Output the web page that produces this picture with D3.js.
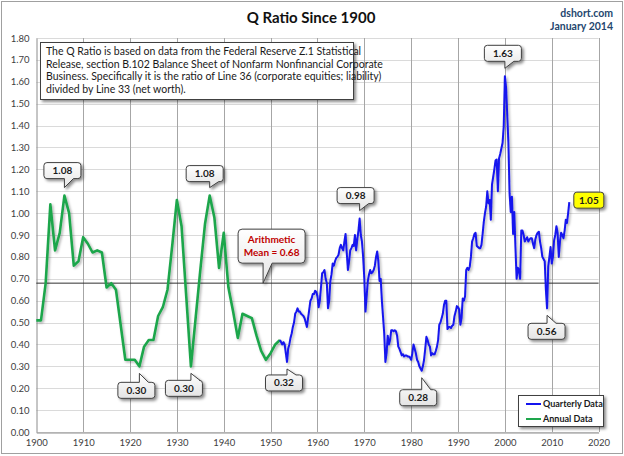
<!DOCTYPE html>
<html>
<head>
<meta charset="utf-8">
<script src="https://cdn.jsdelivr.net/npm/d3@7"></script>
<style>
  html, body { margin: 0; padding: 0; background: #fff; }
  svg { display: block; font-family: Lato, "Open Sans", sans-serif; }
</style>
</head>
<body>
<div id="chart"></div>
<script>
// annual Q ratio, 1900..1952 (one value per year)
const annualStart = 1900;
const annualValues = [
  0.51, 0.51, 0.68, 1.04, 0.83, 0.91, 1.08, 1.00, 0.76, 0.78,
  0.89, 0.86, 0.82, 0.83, 0.82, 0.66, 0.68, 0.65, 0.49, 0.33,
  0.33, 0.33, 0.30, 0.39, 0.42, 0.42, 0.53, 0.57, 0.65, 0.85,
  1.06, 0.94, 0.62, 0.30, 0.52, 0.74, 0.95, 1.08, 0.98, 0.75,
  0.91, 0.66, 0.55, 0.43, 0.54, 0.53, 0.52, 0.44, 0.37, 0.33,
  0.36, 0.40, 0.42
];

// quarterly Q ratio, 1952 Q1 .. 2013 Q4 (one row per year)
const quarterlyStart = 1952;
const quarterlyValues = [
  0.42, 0.41, 0.40, 0.41,   // 1952
  0.40, 0.36, 0.32, 0.38,
  0.40, 0.43, 0.45, 0.48,
  0.50, 0.54, 0.55, 0.565,
  0.55, 0.55, 0.54, 0.535,
  0.53, 0.52, 0.50, 0.48,
  0.52, 0.56, 0.60, 0.61,
  0.63, 0.63, 0.645, 0.64,
  0.62, 0.57, 0.60, 0.66,   // 1960
  0.725, 0.73, 0.74, 0.70,
  0.68, 0.565, 0.60, 0.69,
  0.72, 0.77, 0.76, 0.78,
  0.795, 0.80, 0.81, 0.84,
  0.855, 0.84, 0.83, 0.87,
  0.905, 0.82, 0.74, 0.78,
  0.83, 0.84, 0.855, 0.85,
  0.90, 0.83, 0.88, 0.92,
  0.975, 0.90, 0.87, 0.80,
  0.70, 0.55, 0.62, 0.69,   // 1970
  0.72, 0.74, 0.725, 0.73,
  0.74, 0.76, 0.80, 0.825,
  0.78, 0.69, 0.70, 0.60,
  0.525, 0.45, 0.32, 0.36,
  0.44, 0.40, 0.42, 0.465,
  0.465, 0.46, 0.465, 0.46,
  0.44, 0.39, 0.38, 0.365,
  0.35, 0.355, 0.345, 0.35,
  0.35, 0.345, 0.345, 0.34,
  0.33, 0.36, 0.40, 0.38,   // 1980
  0.36, 0.33, 0.32, 0.30,
  0.29, 0.28, 0.30, 0.33,
  0.38, 0.435, 0.42, 0.40,
  0.39, 0.35, 0.36, 0.355,
  0.355, 0.37, 0.39, 0.42,
  0.49, 0.50, 0.52, 0.54,
  0.58, 0.60, 0.60, 0.47,
  0.48, 0.48, 0.475, 0.485,
  0.49, 0.53, 0.55, 0.575,
  0.57, 0.56, 0.49, 0.52,   // 1990
  0.61, 0.60, 0.62, 0.74,
  0.75, 0.74, 0.755, 0.80,
  0.87, 0.885, 0.905, 0.91,
  0.85, 0.845, 0.84, 0.84,
  0.855, 0.905, 0.96, 1.00,
  1.03, 1.10, 1.045, 1.06,
  0.97, 1.13, 1.165, 1.20,
  1.24, 1.245, 1.10, 1.25,
  1.27, 1.295, 1.32, 1.395,
  1.625, 1.575, 1.45, 1.32, // 2000
  1.09, 1.005, 1.075, 0.905,
  1.005, 0.845, 0.70, 0.75,
  0.74, 0.70, 0.92, 0.92,
  0.90, 0.87, 0.88, 0.89,
  0.87, 0.88, 0.885, 0.885,
  0.86, 0.84, 0.88, 0.90,
  0.91, 0.915, 0.87, 0.84,
  0.80, 0.79, 0.78, 0.65,
  0.565, 0.755, 0.80, 0.845,
  0.77, 0.80, 0.875, 0.90,  // 2010
  0.94, 0.91, 0.80, 0.87,
  0.91, 0.90, 0.885, 0.92,
  0.97, 0.955, 1.00, 1.05
];

const meanValue = 0.68;
const yearTicks = [1900, 1910, 1920, 1930, 1940, 1950, 1960, 1970, 1980, 1990, 2000, 2010, 2020];
const ratioTicks = [0, 0.1, 0.2, 0.3, 0.4, 0.5, 0.6, 0.7, 0.8, 0.9, 1.0, 1.1, 1.2, 1.3, 1.4, 1.5, 1.6, 1.7, 1.8];

// callouts: label, data point (year, value), where the box sits relative to it
const callouts = [
  { text: '1.08', year: 1906, value: 1.08, dx: -2, dy: -25, side: 'down' },
  { text: '1.08', year: 1937, value: 1.08, dx: -5, dy: -22, side: 'down' },
  { text: '0.98', year: 1969, value: 0.975, dx: -4, dy: -23, side: 'down' },
  { text: '1.63', year: 2000, value: 1.625, dx: -2, dy: -23, side: 'down' },
  { text: '0.30', year: 1922, value: 0.30, dx: -3, dy: 24, side: 'up' },
  { text: '0.30', year: 1933, value: 0.30, dx: -7, dy: 22, side: 'up' },
  { text: '0.32', year: 1953.5, value: 0.32, dx: -3, dy: 21, side: 'up' },
  { text: '0.28', year: 1982.25, value: 0.28, dx: -3.5, dy: 27, side: 'up' },
  { text: '0.56', year: 2009, value: 0.565, dx: -0.5, dy: 23, side: 'up' }
];

const noteLines = [
  'The Q Ratio is based on data from the Federal Reserve Z.1 Statistical',
  'Release, section B.102 Balance Sheet of Nonfarm Nonfinancial Corporate',
  'Business. Specifically it is the ratio of Line 36 (corporate equities; liability)',
  'divided by Line 33 (net worth).'
];

const W = 624, H = 456;
const plot = { left: 36.3, right: 598.6, top: 38, bottom: 432 };

const annual = annualValues.map((v, i) => ({ year: annualStart + i, value: v }));
const quarterly = quarterlyValues.map((v, i) => ({ year: quarterlyStart + i / 4, value: v }));

const x = d3.scaleLinear().domain([1900, 2020]).range([plot.left, plot.right]);
const y = d3.scaleLinear().domain([0, 1.8]).range([plot.bottom, plot.top]);

const svg = d3.select('#chart').append('svg')
  .attr('width', W)
  .attr('height', H);

const defs = svg.append('defs');
defs.append('filter').attr('id', 'lineShadow')
  .attr('x', '-5%').attr('y', '-5%').attr('width', '110%').attr('height', '110%')
  .append('feDropShadow')
  .attr('dx', 1.5).attr('dy', 1.5).attr('stdDeviation', 1)
  .attr('flood-color', '#000').attr('flood-opacity', 0.3);
defs.append('filter').attr('id', 'boxShadow')
  .attr('x', '-20%').attr('y', '-20%').attr('width', '150%').attr('height', '150%')
  .append('feDropShadow')
  .attr('dx', 2).attr('dy', 2).attr('stdDeviation', 1.5)
  .attr('flood-color', '#000').attr('flood-opacity', 0.45);
const grad = defs.append('linearGradient').attr('id', 'calloutFill')
  .attr('x1', 0).attr('y1', 0).attr('x2', 0).attr('y2', 1);
grad.append('stop').attr('offset', '0%').attr('stop-color', '#ffffff');
grad.append('stop').attr('offset', '100%').attr('stop-color', '#e4e4e4');

// outer frame
svg.append('rect')
  .attr('x', 1.5).attr('y', 1.5)
  .attr('width', W - 3).attr('height', H - 4)
  .attr('fill', '#fff')
  .attr('stroke', '#a0a0a0');

// grid
svg.append('g')
  .selectAll('line')
  .data(ratioTicks)
  .join('line')
  .attr('x1', plot.left).attr('x2', plot.right)
  .attr('y1', d => Math.round(y(d)) + 0.5).attr('y2', d => Math.round(y(d)) + 0.5)
  .attr('stroke', '#dadada');

svg.append('g')
  .selectAll('line')
  .data(yearTicks.slice(1))
  .join('line')
  .attr('x1', d => Math.round(x(d)) + 0.5).attr('x2', d => Math.round(x(d)) + 0.5)
  .attr('y1', plot.top).attr('y2', plot.bottom)
  .attr('stroke', '#a6a6a6');

// axes
const yAxis = svg.append('g')
  .attr('transform', `translate(${Math.round(plot.left) + 0.5},0)`)
  .call(d3.axisLeft(y).tickValues(ratioTicks).tickFormat(d3.format('.2f')).tickSize(0).tickPadding(7));
yAxis.select('.domain').attr('stroke', '#8c8c8c');
yAxis.selectAll('text').attr('font-size', 9.5).attr('fill', '#404040').attr('font-family', 'Lato, sans-serif');

const xAxis = svg.append('g')
  .attr('transform', `translate(0,${Math.round(plot.bottom) + 0.5})`)
  .call(d3.axisBottom(x).tickValues(yearTicks).tickFormat(d3.format('d')).tickSize(0).tickPadding(7));
xAxis.select('.domain').attr('stroke', '#8c8c8c');
xAxis.selectAll('text').attr('font-size', 9.5).attr('fill', '#404040').attr('font-family', 'Lato, sans-serif');

// arithmetic mean
svg.append('line')
  .attr('x1', plot.left).attr('x2', plot.right)
  .attr('y1', y(meanValue)).attr('y2', y(meanValue))
  .attr('stroke', '#303030').attr('stroke-width', 1);

// series
const line = d3.line().x(d => x(d.year)).y(d => y(d.value));

svg.append('path')
  .datum(annual)
  .attr('d', line)
  .attr('fill', 'none')
  .attr('stroke', '#1ea64c')
  .attr('stroke-width', 2.6)
  .attr('stroke-linejoin', 'round')
  .attr('filter', 'url(#lineShadow)');

svg.append('path')
  .datum(quarterly)
  .attr('d', line)
  .attr('fill', 'none')
  .attr('stroke', '#1414ee')
  .attr('stroke-width', 2)
  .attr('stroke-linejoin', 'round')
  .attr('filter', 'url(#lineShadow)');

// callout shape: rounded box with a wedge pointing at (tx, ty)
function calloutPath(x0, y0, w, h, r, side, tx, ty) {
  const x1 = x0 + w, y1 = y0 + h;
  const b1 = tx, b2 = tx + 9;
  let p = `M${x0 + r},${y0}`;
  if (side === 'up') p += `H${b1}L${tx},${ty}L${b2},${y0}`;
  p += `H${x1 - r}Q${x1},${y0} ${x1},${y0 + r}V${y1 - r}Q${x1},${y1} ${x1 - r},${y1}`;
  if (side === 'down') p += `H${b2}L${tx},${ty}L${b1},${y1}`;
  p += `H${x0 + r}Q${x0},${y1} ${x0},${y1 - r}V${y0 + r}Q${x0},${y0} ${x0 + r},${y0}Z`;
  return p;
}

const boxW = 37, boxH = 16;
const cg = svg.append('g');
callouts.forEach(c => {
  const px = x(c.year), py = y(c.value);
  const cx = px + c.dx, cy = py + c.dy;
  const x0 = cx - boxW / 2, y0 = cy - boxH / 2;
  const ty = c.side === 'down' ? py - 8 : py + 7;
  cg.append('path')
    .attr('d', calloutPath(x0, y0, boxW, boxH, 3, c.side, px, ty))
    .attr('fill', 'url(#calloutFill)')
    .attr('stroke', '#404040')
    .attr('stroke-width', 1)
    .attr('filter', 'url(#boxShadow)');
  cg.append('text')
    .attr('x', cx).attr('y', cy)
    .attr('dy', '0.35em')
    .attr('text-anchor', 'middle')
    .attr('font-size', 10).attr('font-weight', 'bold')
    .attr('fill', '#1a1a1a')
    .text(c.text);
});

// arithmetic mean callout
{
  const px = x(1948.4), py = y(meanValue);
  const w = 67, h = 34;
  const cx = px + 8.5, cy = py - 37;
  cg.append('path')
    .attr('d', calloutPath(cx - w / 2, cy - h / 2, w, h, 4, 'down', px, py))
    .attr('fill', 'url(#calloutFill)')
    .attr('stroke', '#404040')
    .attr('filter', 'url(#boxShadow)');
  const t = cg.append('text')
    .attr('text-anchor', 'middle')
    .attr('font-size', 10).attr('font-weight', 'bold')
    .attr('fill', '#c00000');
  t.append('tspan').attr('x', cx).attr('y', cy - 3).text('Arithmetic');
  t.append('tspan').attr('x', cx).attr('y', cy + 10).text(`Mean = ${meanValue.toFixed(2)}`);
}

// latest value tag
{
  const last = quarterly[quarterly.length - 1];
  const cx = x(last.year) + 19.5, cy = y(last.value) - 2;
  cg.append('rect')
    .attr('x', cx - 15).attr('y', cy - 8)
    .attr('width', 30).attr('height', 16)
    .attr('rx', 3)
    .attr('fill', '#ffff00')
    .attr('stroke', '#404040')
    .attr('filter', 'url(#boxShadow)');
  cg.append('text')
    .attr('x', cx).attr('y', cy).attr('dy', '0.35em')
    .attr('text-anchor', 'middle')
    .attr('font-size', 10).attr('font-weight', 'bold')
    .attr('fill', '#1a1a1a')
    .text(last.value.toFixed(2));
}

// note box
const note = svg.append('g');
note.append('rect')
  .attr('x', 40.5).attr('y', 42.5)
  .attr('width', 313).attr('height', 57)
  .attr('fill', '#fff')
  .attr('stroke', '#404040')
  .attr('filter', 'url(#boxShadow)');
note.append('g')
  .selectAll('text')
  .data(noteLines)
  .join('text')
  .attr('x', 46)
  .attr('y', (d, i) => 55 + i * 12.5)
  .attr('font-size', 10.5)
  .attr('fill', '#1a1a1a')
  .text(d => d);

// legend
const legend = svg.append('g');
legend.append('rect')
  .attr('x', 518.5).attr('y', 395.5)
  .attr('width', 85).attr('height', 31)
  .attr('fill', '#fff')
  .attr('stroke', '#404040')
  .attr('filter', 'url(#boxShadow)');
[['Quarterly Data', '#1414ee', 404], ['Annual Data', '#1ea64c', 419]].forEach(([label, color, ly]) => {
  legend.append('line')
    .attr('x1', 526).attr('x2', 541)
    .attr('y1', ly).attr('y2', ly)
    .attr('stroke', color).attr('stroke-width', 2);
  legend.append('text')
    .attr('x', 543).attr('y', ly).attr('dy', '0.35em')
    .attr('font-size', 9).attr('font-weight', 'bold')
    .attr('fill', '#1a1a1a')
    .text(label);
});

// titles
svg.append('text')
  .attr('x', 311).attr('y', 23)
  .attr('text-anchor', 'middle')
  .attr('font-size', 15).attr('font-weight', 'bold')
  .attr('fill', '#111')
  .text('Q Ratio Since 1900');
svg.append('text')
  .attr('x', 613).attr('y', 17)
  .attr('text-anchor', 'end')
  .attr('font-size', 10.5).attr('font-weight', 'bold')
  .attr('fill', '#24466e')
  .text('dshort.com');
svg.append('text')
  .attr('x', 613).attr('y', 30)
  .attr('text-anchor', 'end')
  .attr('font-size', 10.5).attr('font-weight', 'bold')
  .attr('fill', '#24466e')
  .text('January 2014');
</script>
</body>
</html>
